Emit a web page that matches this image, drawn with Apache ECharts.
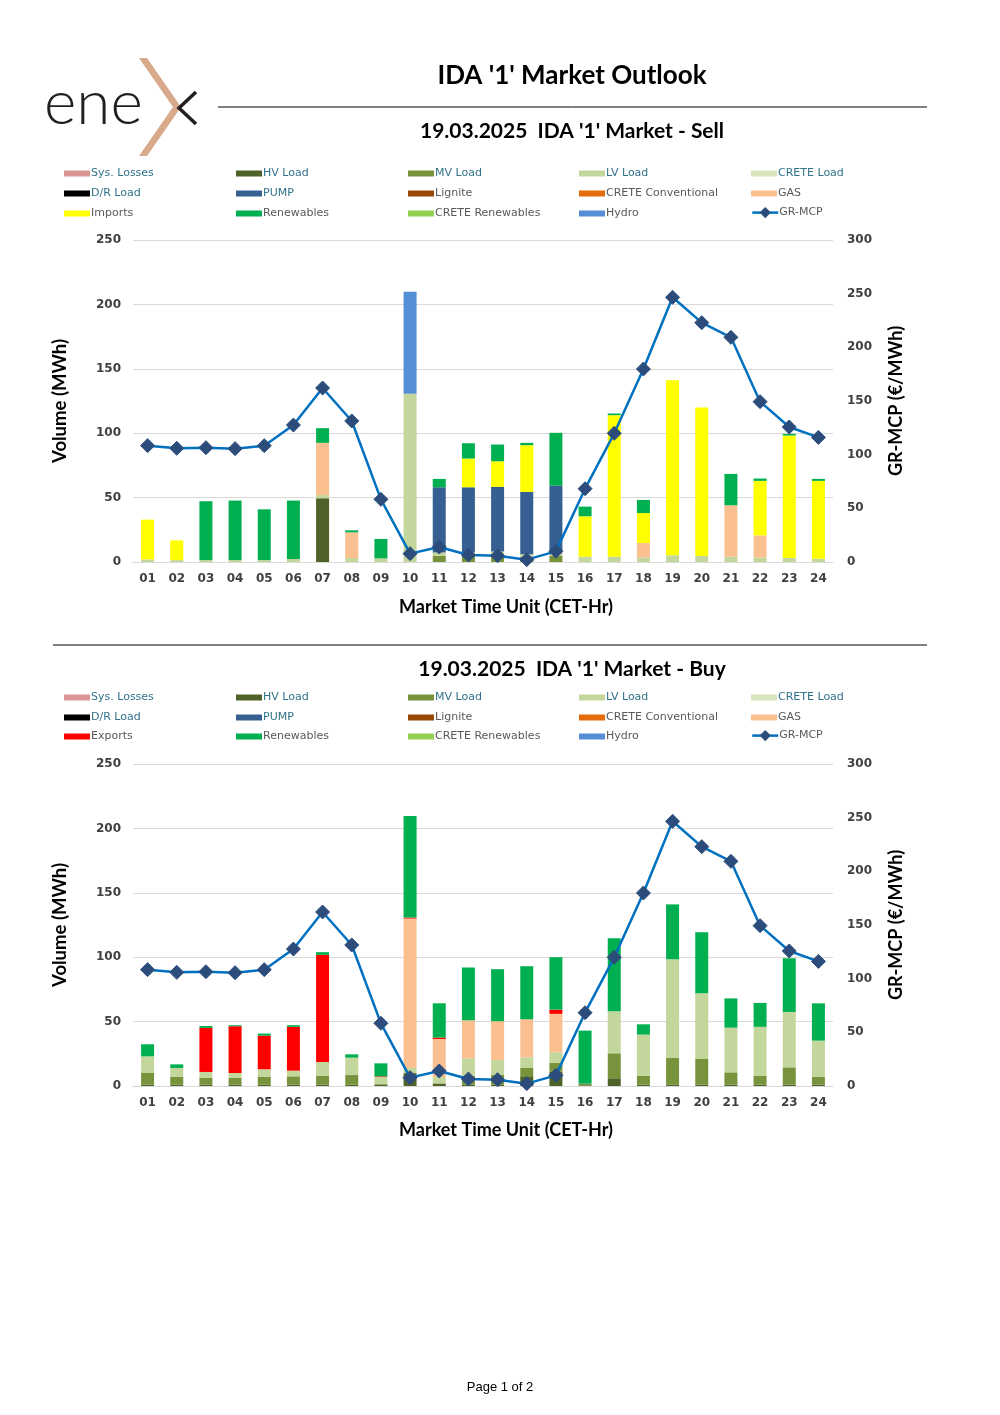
<!DOCTYPE html>
<html>
<head>
<meta charset="utf-8">
<script src="https://cdn.jsdelivr.net/npm/echarts@6/dist/echarts.min.js"></script>
<style>
html,body{margin:0;padding:0;background:#fff;}
#c{width:1000px;height:1415px;}
</style>
</head>
<body>
<div id="c"></div>
<script>
// ---------- DATA ----------
const hours = ['01','02','03','04','05','06','07','08','09','10','11','12','13','14','15','16','17','18','19','20','21','22','23','24'];
const mcp = [108.4,105.9,106.5,105.6,108.4,127.6,162.1,131.4,58.4,7.8,14.0,6.5,5.9,2.2,9.9,68.3,119.9,179.8,246.6,223.0,209.3,149.4,125.8,116.1];

// Sell market (MWh)
const sellSysLosses = [0,0,0,0,0,0,0,0,0,0,0,0,0,0,0,0,0,0,0,0,0,0,0,0];
const sellHV = [0,0,0,0,0,0,49.5,0,0,0,0,0,0,0,0,0,0,0,0,0,0,0,0,0];
const sellMV = [0,0,0,0,0,0,0,0,0,0,4.7,4.7,4.7,4,4.7,0,0,0,0,0,0,0,0,0];
const sellLV = [2,1.5,1.5,1.5,1.5,2.3,2.5,3.1,2.8,130.6,2.6,2.6,3.4,2,2.8,4.1,4.1,3.6,5.2,4.7,4.1,3.4,3.1,2.6];
const sellCreteLoad = [0,0,0,0,0,0,0,0,0,0,0,0,0,0,0,0,0,0,0,0,0,0,0,0];
const sellDR = [0,0,0,0,0,0,0,0,0,0,0,0,0,0,0,0,0,0,0,0,0,0,0,0];
const sellPump = [0,0,0,0,0,0,0,0,0,0,50.7,50.7,50.2,48.4,51.8,0,0,0,0,0,0,0,0,0];
const sellLignite = [0,0,0,0,0,0,0,0,0,0,0,0,0,0,0,0,0,0,0,0,0,0,0,0];
const sellCreteConv = [0,0,0,0,0,0,0,0,0,0,0,0,0,0,0,0,0,0,0,0,0,0,0,0];
const sellGas = [0,0,0,0,0,0,40.5,19.9,0,0,0,0,0,0,0,0,0,11.2,0,0,39.9,17.3,0,0];
const sellImports = [30.9,15.3,0,0,0,0,0,0,0,0,0,22.3,19.9,36.3,0,31.4,109.9,23.2,136,115.3,0,42.3,95.1,60.4];
const sellRen = [0,0,45.7,46.2,39.4,45.4,11.4,1.6,15.1,0,6.5,11.9,13,1.8,41,7.5,1.3,10.2,0,0,24.4,1.8,1.3,1.5];
const sellCreteRen = [0,0,0,0,0,0,0,0,0,0,0,0,0,0,0,0,0,0,0,0,0,0,0,0];
const sellHydro = [0,0,0,0,0,0,0,0,0,79.2,0,0,0,0,0,0,0,0,0,0,0,0,0,0];

// Buy market (MWh)
const buySysLosses = [0,0,0,0,0,0,0,0,0,0,0,0,0,0,0,0,0,0,0,0,0,0,0,0];
const buyHV = [1,1,1,1,1,1,1,1,1,10,2,1,1,7,11,0.5,6,1,1,1,1,1,1,1];
const buyMV = [9.1,6,5.5,5.5,6,6.5,7,7.5,0.5,0,0,7,7.5,7,7,1.3,19.4,6.8,20.8,20,9.6,6.8,13.5,6.3];
const buyLV = [12.9,7,4.4,3.6,6,4.4,10.7,13.5,5.5,4,5,13.5,11.7,8.3,8.2,0,32.6,32.1,76.6,51,34.7,38.1,43,27.9];
const buyCreteLoad = [0,0,0,0,0,0,0,0,0,0,0,0,0,0,0,0,0,0,0,0,0,0,0,0];
const buyDR = [0,0,0,0,0,0,0,0,0,0,0,0,0,0,0,0,0,0,0,0,0,0,0,0];
const buyPump = [0,0,0,0,0,0,0,0,0,0,0,0,0,0,0,0,0,0,0,0,0,0,0,0];
const buyLignite = [0,0,0,0,0,0,0,0,0,0,0,0,0,0,0,0,0,0,0,0,0,0,0,0];
const buyCreteConv = [0,0,0,0,0,0,0,0,0,0,0,0,0,0,0,0,0,0,0,0,0,0,0,0];
const buyGas = [0,0,0,0,0,0,0,0,0,116,29.5,29.5,30.1,29.5,29.8,0,0,0,0,0,0,0,0,0];
const buyExports = [0,0,34.2,36.3,26.1,34,83.1,0,0.5,0.8,1.1,0,0,0,3.3,0,0,0,0,0,0,0,0,0];
const buyRen = [9.4,2.8,1.5,0.8,1.6,1.3,2.1,2.6,10.1,78.8,26.6,41,40.4,41.2,40.7,41.2,56.8,8,42.6,47.4,22.7,18.6,41.7,29];
const buyCreteRen = [0,0,0,0,0,0,0,0,0,0,0,0,0,0,0,0,0,0,0,0,0,0,0,0];
const buyHydro = [0,0,0,0,0,0,0,0,0,0,0,0,0,0,0,0,0,0,0,0,0,0,0,0];

const volTicks = [0,50,100,150,200,250];
const priceTicks = [0,50,100,150,200,250,300];

// ---------- STYLE ----------
const FONT = "'DejaVu Sans', sans-serif";
const TFONT = "Lato, 'DejaVu Sans', sans-serif";
const COLORS = {
  'Sys. Losses':'#d99694','HV Load':'#4f6228','MV Load':'#77933c','LV Load':'#c3d69b','CRETE Load':'#d7e4bd',
  'D/R Load':'#000000','PUMP':'#376092','Lignite':'#984807','CRETE Conventional':'#e46c0a','GAS':'#fac090',
  'Imports':'#ffff00','Exports':'#ff0000','Renewables':'#00b050','CRETE Renewables':'#92d050','Hydro':'#558ed5'
};
const TEAL = '#31738a', GRAY = '#595959';
const legendTextColor = {
  'Sys. Losses':TEAL,'HV Load':TEAL,'MV Load':TEAL,'LV Load':TEAL,'CRETE Load':TEAL,'D/R Load':TEAL,'PUMP':TEAL,
  'Lignite':GRAY,'CRETE Conventional':GRAY,'GAS':GRAY,'Imports':GRAY,'Exports':GRAY,'Renewables':GRAY,
  'CRETE Renewables':GRAY,'Hydro':GRAY,'GR-MCP':GRAY
};

const sellStack = [
  ['Sys. Losses',sellSysLosses],['HV Load',sellHV],['MV Load',sellMV],['LV Load',sellLV],['CRETE Load',sellCreteLoad],
  ['D/R Load',sellDR],['PUMP',sellPump],['Lignite',sellLignite],['CRETE Conventional',sellCreteConv],['GAS',sellGas],
  ['Imports',sellImports],['Renewables',sellRen],['CRETE Renewables',sellCreteRen],['Hydro',sellHydro]
];
const buyStack = [
  ['Sys. Losses',buySysLosses],['HV Load',buyHV],['MV Load',buyMV],['LV Load',buyLV],['CRETE Load',buyCreteLoad],
  ['D/R Load',buyDR],['PUMP',buyPump],['Lignite',buyLignite],['CRETE Conventional',buyCreteConv],['GAS',buyGas],
  ['Exports',buyExports],['Renewables',buyRen],['CRETE Renewables',buyCreteRen],['Hydro',buyHydro]
];

const G = [ {top:240}, {top:764} ];
const GH = 322;

const series = [];
function addCharts(stack, idx, stackName){
  stack.forEach(([name,data])=>{
    series.push({
      name:name, type:'bar', stack:stackName, xAxisIndex:idx, yAxisIndex:idx*2,
      data:data, barWidth:13, itemStyle:{color:COLORS[name]}, emphasis:{disabled:true}
    });
  });
  series.push({
    name:'GR-MCP', type:'line', xAxisIndex:idx, yAxisIndex:idx*2+1, data:mcp, z:10,
    symbol:'diamond', symbolSize:14,
    lineStyle:{color:'#0070c0', width:2.5},
    itemStyle:{color:'#2c4d7c', borderColor:'#2c4d7c'},
    emphasis:{disabled:true}
  });
}
addCharts(sellStack,0,'sell');
addCharts(buyStack,1,'buy');

// legends: 5 columns x 3 rows per chart
const legendCols = [64,236,408,579,751];
function legendLayout(third){
  return [
    ['Sys. Losses','HV Load','MV Load','LV Load','CRETE Load'],
    ['D/R Load','PUMP','Lignite','CRETE Conventional','GAS'],
    [third,'Renewables','CRETE Renewables','Hydro','GR-MCP']
  ];
}
const legends = [];
function addLegends(rowsY, third){
  const L = legendLayout(third);
  L.forEach((row,ri)=>{
    row.forEach((name,ci)=>{
      const isLine = name==='GR-MCP';
      legends.push({
        data:[{name:name, icon: isLine? undefined : 'rect', textStyle:{color:legendTextColor[name]},
               itemStyle: isLine ? {color:'#2c4d7c'} : undefined,
               lineStyle: isLine ? {color:'#0070c0', width:2.5} : undefined}],
        left:legendCols[ci], top:rowsY[ri]-(isLine?5:4), padding:0, itemGap:0,
        itemWidth:26, itemHeight: isLine? 14 : 6,
        selectedMode:false,
        textStyle:{fontFamily:FONT, fontSize:11, padding:[0,0,0,-4]}
      });
    });
  });
}
addLegends([172,192,212],'Imports');
addLegends([696,716,735],'Exports');

const axisLabelStyle = {fontFamily:FONT, fontSize:12, fontWeight:'bold', color:'#404040'};

const xAxes = [0,1].map(i=>({
  type:'category', gridIndex:i, data:hours, boundaryGap:true,
  axisLine:{lineStyle:{color:'#d9d9d9'}}, axisTick:{show:false},
  axisLabel:Object.assign({margin:11, interval:0}, axisLabelStyle)
}));
const yAxes = [];
[0,1].forEach(i=>{
  yAxes.push({
    type:'value', gridIndex:i, position:'left', min:volTicks[0], max:volTicks[volTicks.length-1], interval:volTicks[1]-volTicks[0],
    axisLine:{show:false}, axisTick:{show:false},
    splitLine:{lineStyle:{color:'#d9d9d9'}},
    axisLabel:Object.assign({margin:12}, axisLabelStyle)
  });
  yAxes.push({
    type:'value', gridIndex:i, position:'right', min:priceTicks[0], max:priceTicks[priceTicks.length-1], interval:priceTicks[1]-priceTicks[0],
    axisLine:{show:false}, axisTick:{show:false}, splitLine:{show:false},
    axisLabel:Object.assign({margin:14}, axisLabelStyle)
  });
});

function txt(x,y,text,opts){
  return {type:'text', x:x, y:y, silent:true,
    style:Object.assign({text:text, textAlign:'center', textVerticalAlign:'middle', fill:'#000', fontFamily:TFONT, fontWeight:'bold', fontSize:18}, opts||{})};
}
function rtxt(x,y,text,opts){
  const t = txt(x,y,text,opts); t.rotation = Math.PI/2; return t;
}

const graphics = [
  // logo
  {type:'text', x:44, y:104, silent:true, style:{text:'ene', fontFamily:TFONT, fontWeight:300, fontSize:62, fill:'#231f20', textAlign:'left', textVerticalAlign:'middle'}},
  {type:'polygon', silent:true, shape:{points:[[139,58],[147,58],[181,107],[147,156],[139,156],[173,107]]}, style:{fill:'#d8a98b'}},
  {type:'polyline', silent:true, shape:{points:[[196,92],[179,108],[196,124]]}, style:{stroke:'#231f20', lineWidth:3.5, fill:null}},
  // main title
  txt(572,76,"IDA '1' Market Outlook",{fontSize:26}),
  {type:'line', silent:true, shape:{x1:218,y1:107,x2:927,y2:107}, style:{stroke:'#000', lineWidth:1}},
  txt(572,131,"19.03.2025  IDA '1' Market - Sell",{fontSize:21}),
  txt(506,607,"Market Time Unit (CET-Hr)",{fontSize:18}),
  rtxt(60,401,"Volume (MWh)",{fontSize:18.5}),
  rtxt(896,401,"GR-MCP (€/MWh)",{fontSize:18}),
  {type:'line', silent:true, shape:{x1:53,y1:645,x2:927,y2:645}, style:{stroke:'#000', lineWidth:1}},
  txt(572,669,"19.03.2025  IDA '1' Market - Buy",{fontSize:21}),
  txt(506,1130,"Market Time Unit (CET-Hr)",{fontSize:18}),
  rtxt(60,925,"Volume (MWh)",{fontSize:18.5}),
  rtxt(896,925,"GR-MCP (€/MWh)",{fontSize:18}),
  txt(500,1387,"Page 1 of 2",{fontSize:13, fontWeight:'normal', fontFamily:"'Liberation Sans', Arial, sans-serif"})
];

const option = {
  backgroundColor:'#ffffff',
  animation:false,
  textStyle:{fontFamily:FONT},
  grid: G.map(g=>({left:133, width:700, top:g.top, height:GH, containLabel:false})),
  xAxis: xAxes,
  yAxis: yAxes,
  legend: legends,
  series: series,
  graphic: graphics
};

const chart = echarts.init(document.getElementById('c'));
chart.setOption(option);
</script>
</body>
</html>
